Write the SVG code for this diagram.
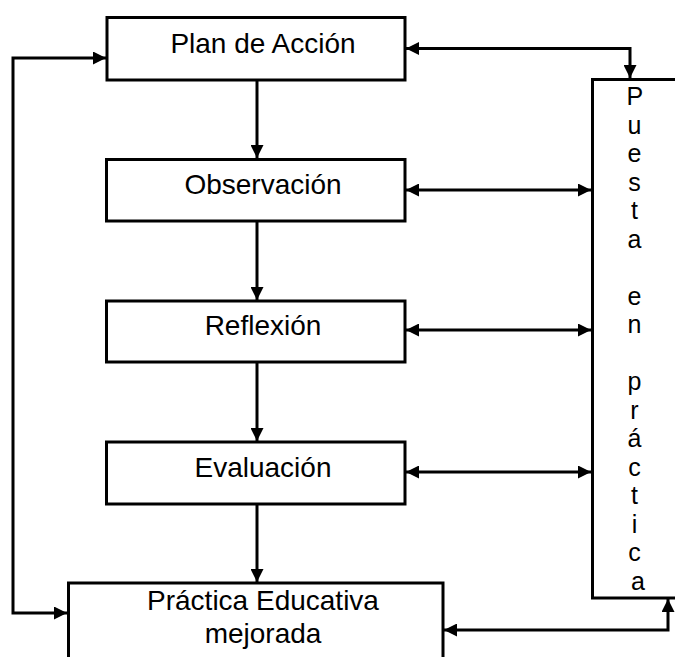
<svg xmlns="http://www.w3.org/2000/svg" width="675" height="657" viewBox="0 0 675 657">
  <style>
    .box { fill: #ffffff; stroke: #000000; stroke-width: 3; }
    .lbl { font-family: "Liberation Sans", Arial, sans-serif; font-size: 28px; fill: #000000; text-anchor: middle; }
    .vlbl { font-family: "Liberation Sans", Arial, sans-serif; font-size: 25px; fill: #000000; text-anchor: middle; }
    .wire { fill: none; stroke: #000000; stroke-width: 3; }
  </style>
  <defs>
    <marker id="arrow" markerUnits="userSpaceOnUse" markerWidth="14" markerHeight="13" refX="13" refY="6.5" orient="auto-start-reverse">
      <path d="M0,0 L13,6.5 L0,13 Z" fill="#000000"/>
    </marker>
  </defs>

  <rect width="675" height="657" fill="#ffffff"/>

  <!-- connectors -->
  <g id="connectors">
    <!-- main sequence -->
    <line class="wire" x1="257" y1="80" x2="257" y2="158" marker-end="url(#arrow)"/>
    <line class="wire" x1="257" y1="221" x2="257" y2="300" marker-end="url(#arrow)"/>
    <line class="wire" x1="257" y1="362" x2="257" y2="441" marker-end="url(#arrow)"/>
    <line class="wire" x1="257" y1="504" x2="257" y2="582" marker-end="url(#arrow)"/>
    <!-- links to the practice column -->
    <polyline class="wire" points="406,48.5 630,48.5 630,78" marker-start="url(#arrow)" marker-end="url(#arrow)"/>
    <line class="wire" x1="406" y1="190" x2="591" y2="190" marker-start="url(#arrow)" marker-end="url(#arrow)"/>
    <line class="wire" x1="406" y1="330" x2="591" y2="330" marker-start="url(#arrow)" marker-end="url(#arrow)"/>
    <line class="wire" x1="406" y1="472" x2="591" y2="472" marker-start="url(#arrow)" marker-end="url(#arrow)"/>
    <polyline class="wire" points="444,630 668,630 668,599" marker-start="url(#arrow)" marker-end="url(#arrow)"/>
    <!-- feedback loop on the left -->
    <polyline class="wire" points="106,58 13,58 13,613 67,613" marker-start="url(#arrow)" marker-end="url(#arrow)"/>
  </g>

  <g id="plan">
    <rect class="box" x="107" y="17.5" width="298" height="62.5"/>
    <text class="lbl" x="263" y="53">Plan de Acción</text>
  </g>

  <g id="observacion">
    <rect class="box" x="106.5" y="159.5" width="298.5" height="61.5"/>
    <text class="lbl" x="263" y="194">Observación</text>
  </g>

  <g id="reflexion">
    <rect class="box" x="106.5" y="301" width="298.5" height="61"/>
    <text class="lbl" x="263" y="335">Reflexión</text>
  </g>

  <g id="evaluacion">
    <rect class="box" x="106.5" y="442" width="298.5" height="62"/>
    <text class="lbl" x="263" y="477">Evaluación</text>
  </g>

  <g id="practica">
    <rect class="box" x="68.5" y="583" width="374.5" height="90"/>
    <text class="lbl" x="263" y="610">Práctica Educativa</text>
    <text class="lbl" x="263" y="643">mejorada</text>
  </g>

  <g id="puesta">
    <rect class="box" x="592.5" y="79.5" width="110" height="518.5"/>
    <text class="vlbl" x="638">
      <tspan x="638" y="105">P</tspan>
      <tspan x="638" y="133.5">u</tspan>
      <tspan x="638" y="162">e</tspan>
      <tspan x="638" y="190.5">s</tspan>
      <tspan x="638" y="219">t</tspan>
      <tspan x="638" y="247.5">a</tspan>
      <tspan x="638" y="304.5">e</tspan>
      <tspan x="638" y="333">n</tspan>
      <tspan x="638" y="390">p</tspan>
      <tspan x="638" y="418.5">r</tspan>
      <tspan x="638" y="447">á</tspan>
      <tspan x="638" y="475.5">c</tspan>
      <tspan x="638" y="504">t</tspan>
      <tspan x="638" y="532.5">i</tspan>
      <tspan x="638" y="561">c</tspan>
      <tspan x="638" y="589.5">a</tspan>
    </text>
  </g>
</svg>
